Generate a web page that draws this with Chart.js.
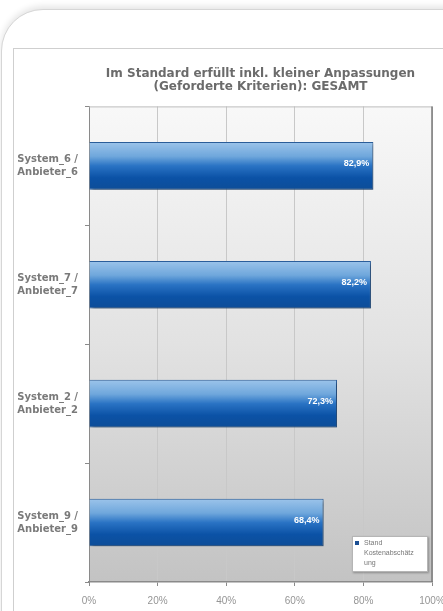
<!DOCTYPE html>
<html>
<head>
<meta charset="utf-8">
<script src="https://cdn.jsdelivr.net/npm/chart.js@4"></script>
<style>
  html, body { margin: 0; padding: 0; background: #fff; }
  body { width: 443px; height: 611px; position: relative; overflow: hidden; font-family: "Liberation Sans", Arial, sans-serif; }
  .card {
    position: absolute; left: 1px; top: 9px; width: 480px; height: 640px;
    border: 1px solid #d6d6d6; border-radius: 42px 0 0 0;
    box-shadow: 0 -3px 6px rgba(0, 0, 0, 0.10);
    background: #fff;
  }
  .frame {
    position: absolute; left: 13px; top: 48px; width: 460px; height: 600px;
    border: 1px solid #cfcfcf; background: #fff;
  }
  .chart-box { position: absolute; left: 13px; top: 48px; width: 430px; height: 563px; }
</style>
</head>
<body>
<div class="card"></div>
<div class="frame"></div>
<div class="chart-box"><canvas id="chart"></canvas></div>
<script>
// Chart data
const titleLines = ['Im Standard erfüllt inkl. kleiner Anpassungen', '(Geforderte Kriterien): GESAMT'];
const categories = [
  ['System_6 /', 'Anbieter_6'],
  ['System_7 /', 'Anbieter_7'],
  ['System_2 /', 'Anbieter_2'],
  ['System_9 /', 'Anbieter_9']
];
const seriesName = 'Stand Kostenabschätzung';
const values = [82.9, 82.2, 72.3, 68.4];
const xTicks = [0, 20, 40, 60, 80, 100];

const fontFamily = '"Liberation Sans", Arial, sans-serif';
const wideFont = '"DejaVu Sans", Verdana, sans-serif';
const barShare = 0.4;

function formatPct(v) {
  return v.toFixed(1).replace('.', ',') + '%';
}

function barFill(c) {
  const chart = c.chart;
  const ys = chart.scales.y;
  if (!chart.chartArea || !ys) return '#1a5fb0';
  const center = ys.getPixelForValue(c.dataIndex);
  const step = Math.abs(ys.getPixelForValue(1) - ys.getPixelForValue(0)) || 100;
  const half = step * barShare / 2;
  const g = chart.ctx.createLinearGradient(0, center - half, 0, center + half);
  g.addColorStop(0, '#9cc4ea');
  g.addColorStop(0.3, '#6fa7dc');
  g.addColorStop(0.5, '#2a73c4');
  g.addColorStop(0.75, '#0b52a6');
  g.addColorStop(1, '#0d4d98');
  return g;
}

// split legend name into lines that fit a narrow box
function wrapText(ctx, text, maxWidth) {
  const lines = [];
  text.split(' ').forEach((word) => {
    let cur = '';
    for (const ch of word) {
      if (ctx.measureText(cur + ch).width > maxWidth && cur) {
        lines.push(cur);
        cur = ch;
      } else {
        cur += ch;
      }
    }
    lines.push(cur);
  });
  return lines;
}

const decorPlugin = {
  id: 'decor',
  beforeDraw(chart) {
    const { ctx, chartArea: a } = chart;
    const g = ctx.createLinearGradient(0, a.top, 0, a.bottom);
    g.addColorStop(0, '#f8f8f8');
    g.addColorStop(0.5, '#e2e2e2');
    g.addColorStop(1, '#c3c3c3');
    ctx.save();
    ctx.fillStyle = g;
    ctx.fillRect(a.left, a.top, a.right - a.left, a.bottom - a.top);
    ctx.restore();
  },
  beforeDatasetsDraw(chart) {
    const ctx = chart.ctx;
    ctx.save();
    ctx.shadowColor = 'rgba(0, 0, 0, 0.35)';
    ctx.shadowOffsetX = 2;
    ctx.shadowOffsetY = 2;
    ctx.shadowBlur = 3;
  },
  afterDatasetsDraw(chart) {
    const ctx = chart.ctx;
    ctx.restore();

    // value labels inside the bar ends
    const meta = chart.getDatasetMeta(0);
    ctx.save();
    ctx.fillStyle = '#ffffff';
    ctx.font = 'bold 9px ' + fontFamily;
    ctx.textAlign = 'right';
    ctx.textBaseline = 'middle';
    meta.data.forEach((el, i) => {
      ctx.fillText(formatPct(values[i]), el.x - 4, el.y - 2);
    });
    ctx.restore();
  },
  afterDraw(chart) {
    const { ctx, chartArea: a } = chart;
    ctx.save();
    // plot frame: top and right edges
    ctx.strokeStyle = '#bdbdbd';
    ctx.lineWidth = 1;
    ctx.beginPath();
    ctx.moveTo(a.left, a.top + 0.5);
    ctx.lineTo(a.right, a.top + 0.5);
    ctx.stroke();
    ctx.strokeStyle = '#7a7a7a';
    ctx.lineWidth = 1.5;
    ctx.beginPath();
    ctx.moveTo(a.right, a.top);
    ctx.lineTo(a.right, a.bottom);
    ctx.stroke();

    // legend box in the lower right corner
    const w = 76, h = 36;
    const x = a.right - 4 - w, y = a.bottom - 10 - h;
    ctx.shadowColor = 'rgba(0, 0, 0, 0.3)';
    ctx.shadowOffsetX = 1;
    ctx.shadowOffsetY = 1;
    ctx.shadowBlur = 2;
    ctx.fillStyle = '#ffffff';
    ctx.fillRect(x, y, w, h);
    ctx.shadowColor = 'transparent';
    ctx.strokeStyle = '#b5b5b5';
    ctx.lineWidth = 1;
    ctx.strokeRect(x + 0.5, y + 0.5, w - 1, h - 1);
    ctx.fillStyle = '#1b4f93';
    ctx.fillRect(x + 3, y + 5, 4, 4);
    ctx.font = '7px ' + fontFamily;
    ctx.fillStyle = '#777';
    ctx.textAlign = 'left';
    ctx.textBaseline = 'middle';
    wrapText(ctx, seriesName, 50).forEach((line, i) => {
      ctx.fillText(line, x + 12, y + 7 + i * 10);
    });
    ctx.restore();
  }
};

const chart = new Chart(document.getElementById('chart'), {
  type: 'bar',
  data: {
    labels: categories,
    datasets: [{
      label: seriesName,
      data: values,
      backgroundColor: barFill,
      borderColor: '#2b5f9c',
      borderWidth: 1,
      categoryPercentage: barShare,
      barPercentage: 1.0
    }]
  },
  options: {
    indexAxis: 'y',
    responsive: true,
    maintainAspectRatio: false,
    animation: false,
    layout: { padding: { top: 0, right: 11, bottom: 0, left: 0 } },
    scales: {
      x: {
        min: 0,
        max: 100,
        afterBuildTicks(scale) {
          scale.ticks = xTicks.map((v) => ({ value: v }));
        },
        afterFit(scale) {
          scale.height = 29;
          scale.paddingLeft = 0;
          scale.paddingRight = 0;
        },
        ticks: {
          color: '#959595',
          font: { family: fontFamily, size: 10 },
          padding: 9,
          callback: (v) => v + '%'
        },
        grid: { color: '#c8c8c8', tickLength: 4, tickColor: '#8a8a8a' },
        border: { color: '#8a8a8a', width: 1.5 }
      },
      y: {
        afterFit(scale) { scale.width = 76; },
        ticks: {
          color: '#7a7a7a',
          font: { family: wideFont, size: 10, weight: 'bold', lineHeight: 1.3 },
          crossAlign: 'center',
          padding: 7
        },
        grid: { drawOnChartArea: false, tickLength: 4, tickColor: '#8a8a8a' },
        border: { color: '#8a8a8a', width: 1 }
      }
    },
    plugins: {
      legend: { display: false },
      tooltip: { enabled: false },
      title: {
        display: true,
        fullSize: false,
        text: titleLines,
        color: '#6b6b6b',
        font: { family: wideFont, size: 12, weight: 'bold', lineHeight: 1.1 },
        padding: { top: 19, bottom: 13 }
      }
    }
  },
  plugins: [decorPlugin]
});
</script>
</body>
</html>
